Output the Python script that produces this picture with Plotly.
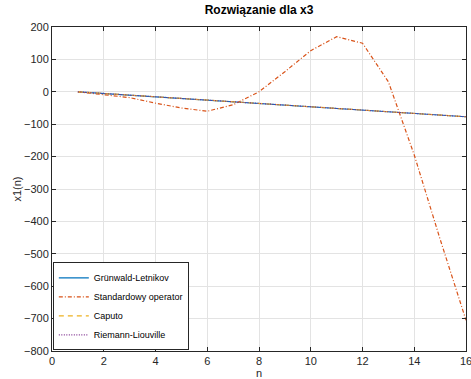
import plotly.graph_objects as go

n = list(range(1, 17))
grunwald = [0, -5, -10, -15, -20, -25, -30, -35, -41, -46, -51, -56, -61, -66, -71, -77]
standard = [0, -8, -18, -35, -50, -60, -40, 0, 62, 127, 170, 150, 31, -195, -455, -705]
caputo = grunwald[:]
riemann = grunwald[:]

fig = go.Figure()
fig.add_trace(go.Scatter(x=n, y=grunwald, mode="lines", name="Grünwald-Letnikov",
                         line=dict(color="#0072BD", width=1.2)))
fig.add_trace(go.Scatter(x=n, y=standard, mode="lines", name="Standardowy operator",
                         line=dict(color="#D95319", width=1.2, dash="4px,2px,1px,2px")))
fig.add_trace(go.Scatter(x=n, y=caputo, mode="lines", name="Caputo",
                         line=dict(color="#EDB120", width=1.2, dash="5px,4px")))
fig.add_trace(go.Scatter(x=n, y=riemann, mode="lines", name="Riemann-Liouville",
                         line=dict(color="#7E2F8E", width=1.2, dash="1px,1.5px")))

axis_common = dict(showline=True, linecolor="#262626", linewidth=1, mirror="ticks",
                   ticks="inside", ticklen=4, tickcolor="#262626",
                   showgrid=True, gridcolor="#e3e3e3", gridwidth=1, zeroline=False,
                   tickfont=dict(size=11, color="#262626"), automargin=False)

fig.update_layout(
    width=471, height=379,
    margin=dict(l=52, r=5, t=27, b=28),
    paper_bgcolor="white", plot_bgcolor="white",
    font=dict(family="Liberation Sans, Arial, sans-serif", color="#262626", size=11),
    title=dict(text="<b>Rozwiązanie dla x3</b>", x=0.55, xanchor="center", y=0.985, yanchor="top",
               font=dict(size=12, color="black")),
    xaxis=dict(range=[-0.0001, 16.0001], tickvals=list(range(0, 17, 2)),
               ticklabeloverflow="allow",
               title=dict(text="n", standoff=2, font=dict(size=11)), **axis_common),
    yaxis=dict(range=[-800.01, 200.01], tickvals=list(range(-800, 201, 100)),
               title=dict(text="x1(n)", standoff=0, font=dict(size=11)), **axis_common),
    legend=dict(x=0.002, y=0.002, xanchor="left", yanchor="bottom",
                bordercolor="#262626", borderwidth=1, bgcolor="white",
                font=dict(size=9, color="black"), itemwidth=30,
                tracegroupgap=0),
    showlegend=True,
)

fig.write_html("out.html")
